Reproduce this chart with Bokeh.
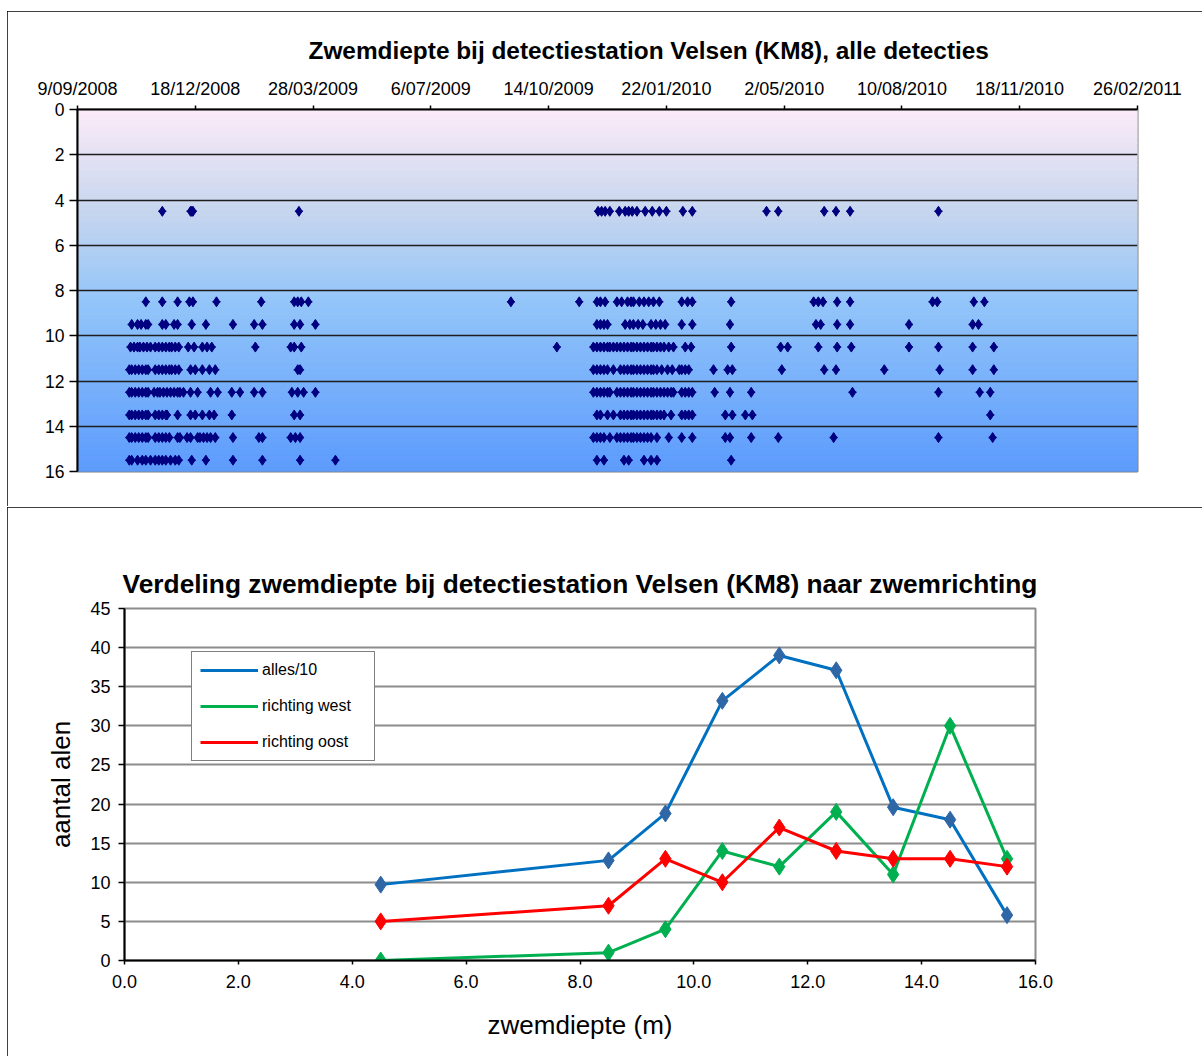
import numpy as np
from bokeh.plotting import figure
from bokeh.models import (Range1d, FixedTicker, SingleIntervalTicker, NumeralTickFormatter,
                          Legend, LegendItem, ColumnDataSource)
from bokeh.embed import file_html
from bokeh.resources import INLINE

FONT = "Liberation Sans"

# ---------------- top chart data: all detections ----------------
top_title = "Zwemdiepte bij detectiestation Velsen (KM8), alle detecties"
date_tick_days = [0, 100, 200, 300, 400, 500, 600, 700, 800, 900]   # days since 9/09/2008
date_tick_labels = ["9/09/2008", "18/12/2008", "28/03/2009", "6/07/2009", "14/10/2009",
                    "22/01/2010", "2/05/2010", "10/08/2010", "18/11/2010", "26/02/2011"]
depth_ticks = [0, 2, 4, 6, 8, 10, 12, 14, 16]

# detection days (since 9/09/2008) per depth level (m)
days_at_4_5 = [72, 96, 97, 98, 188, 442, 445, 448, 452, 460, 465, 468, 471, 475, 482, 488, 494,
               500, 514, 522, 585, 595, 634, 644, 656, 731]
days_at_8_5 = [58, 72, 85, 95, 98, 118, 156, 184, 187, 190, 196, 368, 426, 441, 444, 448, 458,
               462, 467, 470, 472, 477, 481, 485, 489, 494, 513, 518, 522, 555, 625, 629, 633,
               645, 656, 726, 730, 761, 770]
days_at_9_5 = [46, 51, 54, 58, 60, 72, 75, 82, 85, 97, 109, 132, 150, 157, 184, 189, 202, 441,
               444, 447, 450, 465, 469, 472, 476, 480, 487, 491, 495, 499, 513, 522, 554, 627,
               631, 645, 656, 706, 760, 765]
days_at_10_5 = [45, 48, 51, 53, 56, 59, 62, 66, 69, 72, 75, 78, 80, 83, 86, 94, 99, 106, 110,
                114, 151, 181, 184, 190, 407, 438, 441, 444, 447, 450, 452, 455, 458, 461, 464,
                467, 470, 472, 475, 478, 481, 484, 487, 489, 492, 495, 498, 502, 506, 516, 521,
                555, 597, 603, 629, 645, 657, 706, 731, 760, 778]
days_at_11_5 = [44, 46, 49, 52, 55, 58, 60, 66, 69, 72, 75, 78, 80, 83, 86, 96, 100, 106, 112,
                117, 187, 189, 438, 441, 444, 447, 450, 455, 461, 464, 467, 470, 472, 475, 478,
                481, 484, 487, 489, 492, 496, 501, 505, 511, 513, 516, 519, 540, 552, 556, 598,
                634, 644, 685, 732, 760, 778]
days_at_12_5 = [44, 46, 49, 52, 55, 58, 60, 65, 68, 70, 73, 76, 79, 82, 85, 87, 90, 96, 102,
                113, 119, 131, 138, 150, 157, 182, 187, 192, 202, 438, 441, 444, 447, 450, 452,
                458, 461, 464, 467, 470, 472, 475, 478, 481, 484, 487, 489, 492, 495, 498, 501,
                504, 506, 513, 516, 519, 522, 541, 554, 572, 658, 731, 766, 775]
days_at_13_5 = [44, 46, 49, 52, 55, 58, 60, 66, 69, 72, 75, 76, 85, 96, 100, 106, 112, 116, 131,
                184, 189, 441, 444, 450, 455, 461, 464, 467, 470, 472, 475, 478, 481, 484, 487,
                489, 492, 495, 498, 504, 513, 516, 519, 522, 550, 556, 567, 573, 775]
days_at_14_5 = [44, 46, 49, 52, 55, 58, 60, 66, 69, 72, 75, 78, 85, 87, 93, 96, 102, 104, 107,
                110, 113, 117, 132, 154, 157, 181, 185, 189, 438, 441, 444, 447, 452, 458, 461,
                464, 467, 470, 472, 475, 478, 481, 484, 487, 492, 502, 513, 522, 550, 554, 572,
                595, 642, 731, 777]
days_at_15_5 = [44, 46, 51, 55, 58, 62, 66, 69, 72, 75, 79, 83, 86, 97, 109, 132, 157, 189, 219,
                441, 447, 464, 468, 481, 487, 492, 555]

depth_levels = [4.5, 8.5, 9.5, 10.5, 11.5, 12.5, 13.5, 14.5, 15.5]
days_per_level = [days_at_4_5, days_at_8_5, days_at_9_5, days_at_10_5, days_at_11_5,
                  days_at_12_5, days_at_13_5, days_at_14_5, days_at_15_5]

# ---------------- bottom chart data: per swim direction ----------------
bottom_title = "Verdeling zwemdiepte bij detectiestation Velsen (KM8) naar zwemrichting"
depth_m = [4.5, 8.5, 9.5, 10.5, 11.5, 12.5, 13.5, 14.5, 15.5]
alles_10 = [9.7, 12.8, 18.8, 33.2, 39.0, 37.1, 19.6, 18.0, 5.8]
richting_west = [0, 1, 4, 14, 12, 19, 11, 30, 13]
richting_oost = [5, 7, 13, 10, 17, 14, 13, 13, 12]
series_names = ["alles/10", "richting west", "richting oost"]

# ======================= TOP FIGURE =======================
p1 = figure(width=1195, height=495, x_range=Range1d(date_tick_days[0], date_tick_days[-1]),
            y_range=Range1d(depth_ticks[-1], depth_ticks[0]), x_axis_location="above",
            output_backend="svg", toolbar_location=None,
            min_border_left=70, min_border_right=65, min_border_top=98, min_border_bottom=35)
p1.styles = {"outline": "1px solid black", "outline-offset": "-1px",
             "margin-left": "7px", "margin-top": "11px"}
p1.title.text = top_title
p1.title.text_font = FONT
p1.title.text_font_size = "24.4px"
p1.title.text_font_style = "bold"
p1.title.text_color = "black"
p1.title.align = "left"
p1.title.offset = 231
p1.title.standoff = 24

# gradient background (decorative)
stops_y = [0.0, 4.5, 8.5, 16.0]
stops_c = [(252, 235, 248), (199, 214, 238), (147, 197, 249), (92, 155, 253)]
nb = 64
edges = np.linspace(depth_ticks[0], depth_ticks[-1], nb + 1)
mids = (edges[:-1] + edges[1:]) / 2
cols = []
for m in mids:
    rgb = [int(round(np.interp(m, stops_y, [c[k] for c in stops_c]))) for k in range(3)]
    cols.append("#%02x%02x%02x" % tuple(rgb))
bg = p1.quad(left=date_tick_days[0], right=date_tick_days[-1], top=edges[:-1], bottom=edges[1:],
             fill_color=cols, line_color=cols, line_width=1)
bg.level = "image"

xs, ys = [], []
for d, days in zip(depth_levels, days_per_level):
    xs.extend(days)
    ys.extend([d] * len(days))
src1 = ColumnDataSource(dict(x=xs, y=ys))
p1.scatter("x", "y", source=src1, marker="diamond", size=10, fill_color="#000080", line_color="#000080")
p1.scatter("x", "y", source=src1, marker="cross", size=8, line_color="#000080", line_width=1.5)

p1.xgrid.visible = False
p1.ygrid.ticker = FixedTicker(ticks=depth_ticks)
p1.ygrid.grid_line_color = "#1e1e1e"
p1.ygrid.grid_line_width = 1.6
p1.outline_line_color = "#808080"
p1.outline_line_width = 2

xa = p1.xaxis[0]
xa.ticker = FixedTicker(ticks=date_tick_days)
xa.major_label_overrides = {d: l for d, l in zip(date_tick_days, date_tick_labels)}
ya = p1.yaxis[0]
ya.ticker = FixedTicker(ticks=depth_ticks)
for ax in (xa, ya):
    ax.axis_line_color = "black"
    ax.axis_line_width = 2
    ax.major_tick_line_color = "black"
    ax.major_tick_line_width = 1.5
    ax.major_tick_in = 0
    ax.minor_tick_line_color = None
    ax.major_label_text_font = FONT
    ax.major_label_text_color = "black"
xa.major_tick_out = 4
xa.major_label_standoff = 7
xa.major_label_text_font_size = "18px"
ya.major_tick_out = 8
ya.major_label_standoff = 5
ya.major_label_text_font_size = "17.5px"

# ======================= BOTTOM FIGURE =======================
p2 = figure(width=1195, height=549, x_range=Range1d(0, 16), y_range=Range1d(0, 45),
            output_backend="svg", toolbar_location=None,
            min_border_left=117, min_border_right=167, min_border_top=101, min_border_bottom=96)
p2.styles = {"outline": "1px solid black", "outline-offset": "-1px",
             "margin-left": "7px", "margin-top": "1px"}
p2.title.text = bottom_title
p2.title.text_font = FONT
p2.title.text_font_size = "26.3px"
p2.title.text_font_style = "bold"
p2.title.text_color = "black"
p2.title.align = "center"
p2.title.standoff = 19

p2.xgrid.visible = False
p2.ygrid.ticker = SingleIntervalTicker(interval=5)
p2.ygrid.grid_line_color = "#8c8c8c"
p2.ygrid.grid_line_width = 2
p2.outline_line_color = "#8c8c8c"
p2.outline_line_width = 2

line_cols = ["#0070C0", "#00B050", "#FF0000"]
mark_cols = ["#2F66A6", "#00B050", "#FF0000"]
items = []
for name, vals, lc, mc in zip(series_names, [alles_10, richting_west, richting_oost], line_cols, mark_cols):
    s = ColumnDataSource(dict(x=depth_m, y=vals))
    r_line = p2.line("x", "y", source=s, line_color=lc, line_width=3)
    p2.scatter("x", "y", source=s, marker="diamond", size=17, fill_color=mc, line_color=mc)
    empty = ColumnDataSource(dict(x=[], y=[]))
    r_leg = p2.scatter("x", "y", source=empty, marker="diamond", size=12, fill_color=mc, line_color=mc)
    items.append(LegendItem(label=name, renderers=[r_line, r_leg]))

legend = Legend(items=items, location=(67, 199), padding=8, spacing=16, margin=0,
                glyph_height=20, glyph_width=58, label_standoff=4, label_width=104,
                label_text_font=FONT, label_text_font_size="16px", label_text_color="black",
                border_line_color="black", border_line_width=1.5, background_fill_alpha=1)
p2.add_layout(legend, "center")

xa2 = p2.xaxis[0]
xa2.ticker = SingleIntervalTicker(interval=2)
xa2.formatter = NumeralTickFormatter(format="0.0")
ya2 = p2.yaxis[0]
ya2.ticker = SingleIntervalTicker(interval=5)
for ax in (xa2, ya2):
    ax.axis_line_color = "black"
    ax.axis_line_width = 2
    ax.major_tick_line_color = "black"
    ax.major_tick_line_width = 1.5
    ax.major_tick_in = 0
    ax.minor_tick_line_color = None
    ax.major_label_text_font = FONT
    ax.major_label_text_font_size = "18px"
    ax.major_label_text_color = "black"
    ax.axis_label_text_font = FONT
    ax.axis_label_text_font_size = "26px"
    ax.axis_label_text_font_style = "normal"
    ax.axis_label_text_color = "black"
xa2.major_tick_out = 4
xa2.major_label_standoff = 10
xa2.axis_label = "zwemdiepte (m)"
xa2.axis_label_standoff = 19
ya2.major_tick_out = 6
ya2.major_label_standoff = 8
ya2.axis_label = "aantal alen"
ya2.axis_label_standoff = 11

open("out.html", "w").write(file_html([p1, p2], INLINE))
